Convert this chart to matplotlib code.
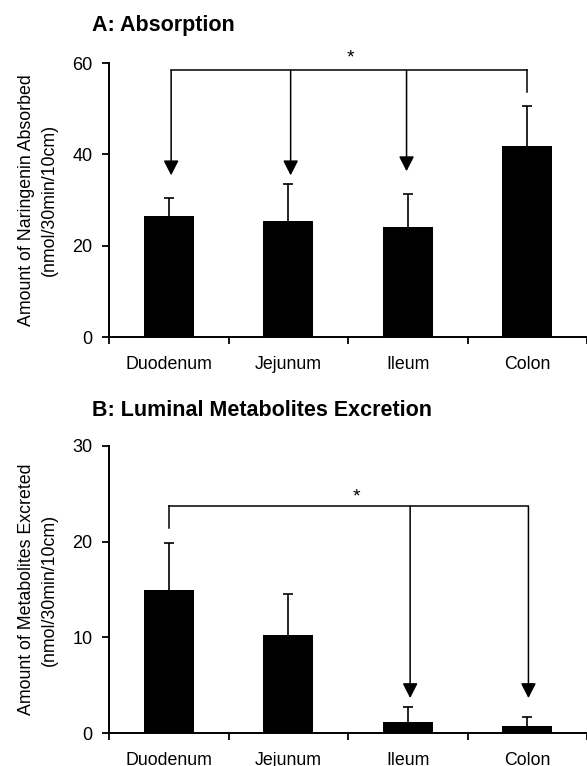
import matplotlib
matplotlib.use('Agg')
import matplotlib.pyplot as plt

plt.rcParams['font.family'] = ['Liberation Sans', 'DejaVu Sans']

segments = ['Duodenum', 'Jejunum', 'Ileum', 'Colon']

# panel A: naringenin absorbed (mean, upper SD)
absorbed = [26.6, 25.5, 24.1, 41.9]
absorbed_err = [3.9, 8.0, 7.2, 8.6]

# panel B: luminal metabolites excreted
excreted = [14.9, 10.2, 1.2, 0.7]
excreted_err = [5.0, 4.3, 1.5, 1.0]

W, H = 587, 766
fig = plt.figure(figsize=(W / 100, H / 100), dpi=100)


def px_axes(left, top, right, bottom):
	return fig.add_axes([left / W, 1 - bottom / H, (right - left) / W, (bottom - top) / H])


def style_axis(ax, ymax, ystep, ylabel):
	pos = range(len(segments))
	ax.set_xlim(-0.5, 3.45)
	ax.set_ylim(0, ymax)
	ax.set_yticks(range(0, ymax + 1, ystep))
	ax.set_xticks(list(pos))
	ax.set_xticklabels(segments)
	ax.set_xticks([-0.5, 0.5, 1.5, 2.5, 3.5], minor=True)
	ax.tick_params(axis='x', which='major', length=0, pad=14, labelsize=12.8)
	ax.tick_params(axis='x', which='minor', length=5, width=1.3, direction='out')
	ax.tick_params(axis='y', length=5, width=1.3, direction='out', pad=7, labelsize=13)
	for s in ['top', 'right']:
		ax.spines[s].set_visible(False)
	for s in ['left', 'bottom']:
		ax.spines[s].set_linewidth(1.4)
	ax.set_ylabel(ylabel, fontsize=12.8, linespacing=1.45)
	ax.yaxis.set_label_coords(-0.108, 0.5)


def bars(ax, vals, errs):
	pos = list(range(len(vals)))
	ax.bar(pos, vals, width=0.42, color='black', zorder=2)
	tops = [v + e for v, e in zip(vals, errs)]
	ax.vlines(pos, vals, tops, color='black', lw=1.2, zorder=1)
	ax.errorbar(pos, tops, yerr=None, fmt='_', color='black', markersize=7.6,
				markeredgewidth=1.2, zorder=1)


def arrow(ax, x, y0, y1):
	ax.annotate('', xy=(x, y1), xytext=(x, y0),
				arrowprops=dict(arrowstyle='-|>,head_length=0.45,head_width=0.23',
								mutation_scale=20, lw=1.1, color='black',
								shrinkA=0, shrinkB=0), annotation_clip=False)


# ---- A ----
axA = px_axes(109, 63, 587, 337)
bars(axA, absorbed, absorbed_err)
style_axis(axA, 60, 20, 'Amount of Naringenin Absorbed\n(nmol/30min/10cm)')
top_a = 58.4
axA.plot([0.02, 3.0], [top_a, top_a], color='black', lw=1.1, clip_on=False)
axA.plot([3.0, 3.0], [top_a, 53.6], color='black', lw=1.1, clip_on=False)
arrow(axA, 0.02, top_a, 35.4)
arrow(axA, 1.02, top_a, 35.4)
arrow(axA, 1.99, top_a, 36.3)
axA.text(1.52, 61.0, '*', ha='center', va='center', fontsize=14, clip_on=False)
fig.text(92 / W, 1 - 25 / H, 'A: Absorption', fontsize=15.5, fontweight='bold',
		 ha='left', va='center')

# ---- B ----
axB = px_axes(109, 446, 587, 733)
bars(axB, excreted, excreted_err)
style_axis(axB, 30, 10, 'Amount of Metabolites Excreted\n(nmol/30min/10cm)')
top_b = 23.7
axB.plot([0.0, 3.01], [top_b, top_b], color='black', lw=1.1)
axB.plot([0.0, 0.0], [top_b, 21.4], color='black', lw=1.1)
arrow(axB, 2.02, top_b, 3.65)
arrow(axB, 3.01, top_b, 3.65)
axB.text(1.57, 24.7, '*', ha='center', va='center', fontsize=14)
fig.text(92 / W, 1 - 410 / H, 'B: Luminal Metabolites Excretion', fontsize=15.5,
		 fontweight='bold', ha='left', va='center')

fig.savefig('out.png', dpi=100)
